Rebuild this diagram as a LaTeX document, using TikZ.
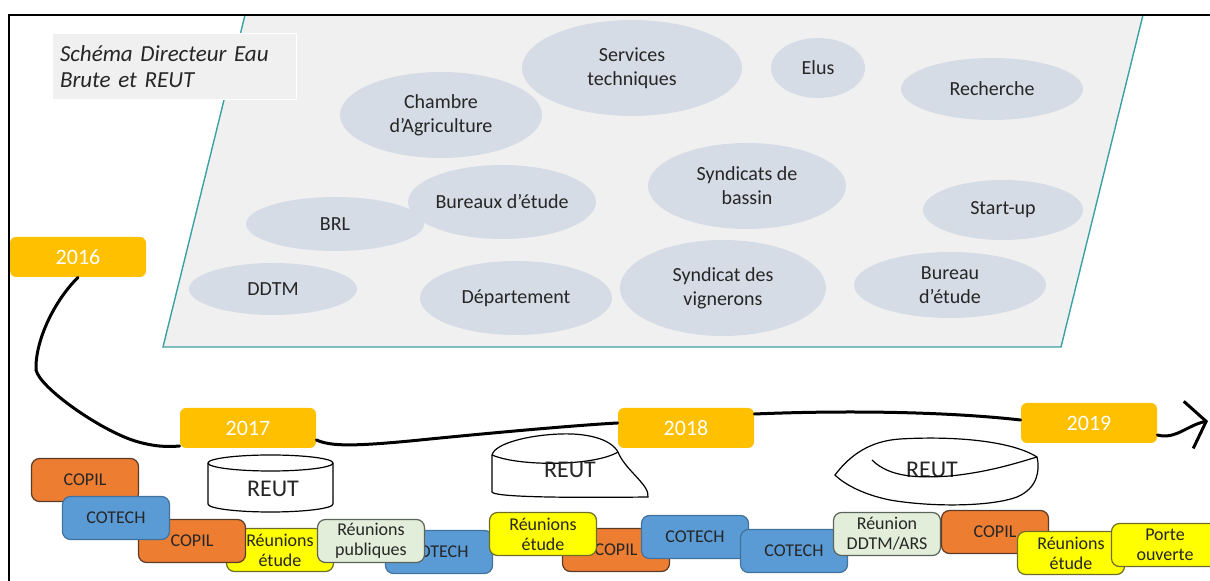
\documentclass[tikz,border=0pt]{standalone}
\usepackage{fontspec}
\setmainfont{Carlito}
\usepackage{xcolor}
\usetikzlibrary{shapes.geometric,arrows.meta}

\definecolor{yearfill}{RGB}{255,192,0}
\definecolor{panelfill}{RGB}{240,240,240}
\definecolor{paneldraw}{RGB}{60,160,165}
\definecolor{actorfill}{RGB}{214,220,229}
\definecolor{copilfill}{RGB}{237,125,49}
\definecolor{copildraw}{RGB}{90,60,40}
\definecolor{cotechfill}{RGB}{91,155,213}
\definecolor{cotechdraw}{RGB}{65,113,156}
\definecolor{etudefill}{RGB}{255,255,0}
\definecolor{etudedraw}{RGB}{110,110,40}
\definecolor{publicfill}{RGB}{226,238,218}
\definecolor{publicdraw}{RGB}{90,100,90}
\definecolor{textdark}{RGB}{38,38,38}

\begin{document}
\begin{tikzpicture}[x=0.5pt, y=-0.5pt,
    year/.style={rectangle, rounded corners=3pt, fill=yearfill, text=white,
        minimum width=68pt, minimum height=20pt, inner sep=0pt,
        font=\fontsize{11}{13}\selectfont},
    actor/.style={ellipse, fill=actorfill, inner sep=0pt, align=center,
        text=textdark, font=\fontsize{10}{12}\selectfont},
    meet/.style={rectangle, rounded corners=4pt, draw, line width=0.6pt,
        minimum width=53.5pt, minimum height=21.5pt, inner sep=1pt, align=center,
        text=textdark, font=\fontsize{9}{10}\selectfont},
    copil/.style={meet, fill=copilfill, draw=copildraw},
    cotech/.style={meet, fill=cotechfill, draw=cotechdraw},
    etude/.style={meet, fill=etudefill, draw=etudedraw},
    public/.style={meet, fill=publicfill, draw=publicdraw},
    timeline/.style={line width=1.5pt, line cap=round},
    reut/.style={draw, fill=white, line width=0.6pt},
    reutline/.style={draw, line width=0.6pt},
    reuttext/.style={inner sep=0pt, text=textdark, font=\fontsize{12}{14}\selectfont}]

    \useasboundingbox (0,0) rectangle (1210,581);

    % plan d'ensemble
    \draw[fill=panelfill, draw=paneldraw, line width=0.7pt] (245,15) -- (1143,15) -- (1061,347) -- (163,347) -- cycle;
    \draw[line width=1pt] (9,581) -- (9,15) -- (1212,15);

    \node[rectangle, fill=panelfill, draw=white, line width=0.5pt, text width=114pt, minimum height=33pt,
        inner sep=4pt, align=left, font=\fontsize{11.5}{13}\selectfont\itshape, text=textdark]
        (titre) at (174,67) {Schéma Directeur Eau\\Brute et REUT};

    \node[actor, minimum width=101pt, minimum height=43pt] (chambre) at (441,115) {Chambre\\d’Agriculture};
    \node[actor, minimum width=110pt, minimum height=48pt] (services) at (632,68) {Services\\techniques};
    \node[actor, minimum width=47pt, minimum height=30pt] (elus) at (818,68) {Elus};
    \node[actor, minimum width=91pt, minimum height=31pt] (recherche) at (992,89) {Recherche};
    \node[actor, minimum width=99pt, minimum height=43pt] (syndicats) at (747,186) {Syndicats de\\bassin};
    \node[actor, minimum width=86pt, minimum height=37pt] (bureaux) at (502,202) {Bureaux d’étude};
    \node[actor, minimum width=89pt, minimum height=27pt] (brl) at (335,224) {BRL};
    \node[actor, minimum width=80pt, minimum height=30pt] (startup) at (1003,210) {Start-up};
    \node[actor, minimum width=84pt, minimum height=26pt] (ddtm) at (273,289) {DDTM};
    \node[actor, minimum width=96pt, minimum height=37pt] (departement) at (516,298) {Département};
    \node[actor, minimum width=103pt, minimum height=48pt] (vignerons) at (723,288) {Syndicat des\\vignerons};
    \node[actor, minimum width=96pt, minimum height=33pt] (bureau) at (950,285) {Bureau\\d’étude};

    % frise
    \node[year] (y16) at (78,257) {2016};
    \node[year] (y17) at (248,428) {2017};
    \node[year] (y18) at (686,428) {2018};
    \node[year] (y19) at (1089,423) {2019};
    \coordinate (fin) at (1208,421);

    \draw[timeline] (y16.south) .. controls (55,300) and (35,340) .. (36,370)
        .. controls (40,388) and (100,430) .. (135,441) .. controls (155,447) and (168,447) .. ([yshift=-9pt]y17.west);
    \draw[timeline] ([yshift=-6pt]y17.east) .. controls (330,446) and (350,447) .. (420,440)
        .. controls (500,432) and (580,425) .. ([yshift=2.5pt]y18.west);
    \draw[timeline] ([yshift=7pt]y18.east) .. controls (850,410) and (950,412) .. ([yshift=1.5pt]y19.west);
    \draw[timeline, -{Straight Barb[length=9pt, width=24pt, line width=1.5pt]}]
        ([yshift=-6pt]y19.east) .. controls (1175,440) and (1188,425) .. (fin);

    % REUT
    \draw[reut] (208,463) -- (208,504) arc[start angle=180, end angle=360, x radius=31.25pt, y radius=4pt]
        -- (333,463) arc[start angle=0, end angle=180, x radius=31.25pt, y radius=4pt] -- cycle;
    \draw[reutline] (208,463) arc[start angle=180, end angle=360, x radius=31.25pt, y radius=4pt];
    \node[reuttext] (reutA) at (273,489) {REUT};

    \draw[reut] (492,455) -- (492,492) .. controls (494,497) and (560,498) .. (648,497)
        .. controls (650,485) and (625,470) .. (618,452) .. controls (610,438) and (585,433) .. (560,434)
        .. controls (530,435) and (495,443) .. (492,455) -- cycle;
    \draw[reutline] (492,455) .. controls (520,467) and (595,466) .. (618,452);
    \node[reuttext] (reutB) at (570,470) {REUT};

    \draw[reut] (835,475) .. controls (850,455) and (870,441) .. (900,439)
        .. controls (950,436) and (1010,440) .. (1037,457) .. controls (1040,470) and (1038,488) .. (1017,497)
        .. controls (990,507) and (930,507) .. (890,500) .. controls (865,495) and (845,485) .. (835,475) -- cycle;
    \node[reuttext] (reutC) at (932,470) {REUT};
    \draw[reutline] (872,460) .. controls (890,478) and (920,478) .. (950,476) .. controls (990,472) and (1020,462) .. (1037,457);

    % reunions
    \node[etude] (etudeA) at (280,550) {Réunions\\étude};
    \node[copil] (copilB) at (192,541) {COPIL};
    \node[copil] (copilA) at (85,480) {COPIL};
    \node[cotech] (cotechA) at (116,518) {COTECH};
    \node[cotech] (cotechB) at (439,552) {COTECH};
    \node[public] (publicA) at (371,541) {Réunions\\publiques};
    \node[copil] (copilC) at (616,550) {COPIL};
    \node[etude] (etudeB) at (543,534) {Réunions\\étude};
    \node[cotech] (cotechC) at (695,537) {COTECH};
    \node[cotech] (cotechD) at (794,551) {COTECH};
    \node[public] (ddtmars) at (887,534) {Réunion\\DDTM/ARS};
    \node[copil] (copilD) at (995,532) {COPIL};
    \node[etude] (etudeC) at (1071,553) {Réunions\\étude};
    \node[etude] (porte) at (1165,545) {Porte\\ouverte};

\end{tikzpicture}
\end{document}
